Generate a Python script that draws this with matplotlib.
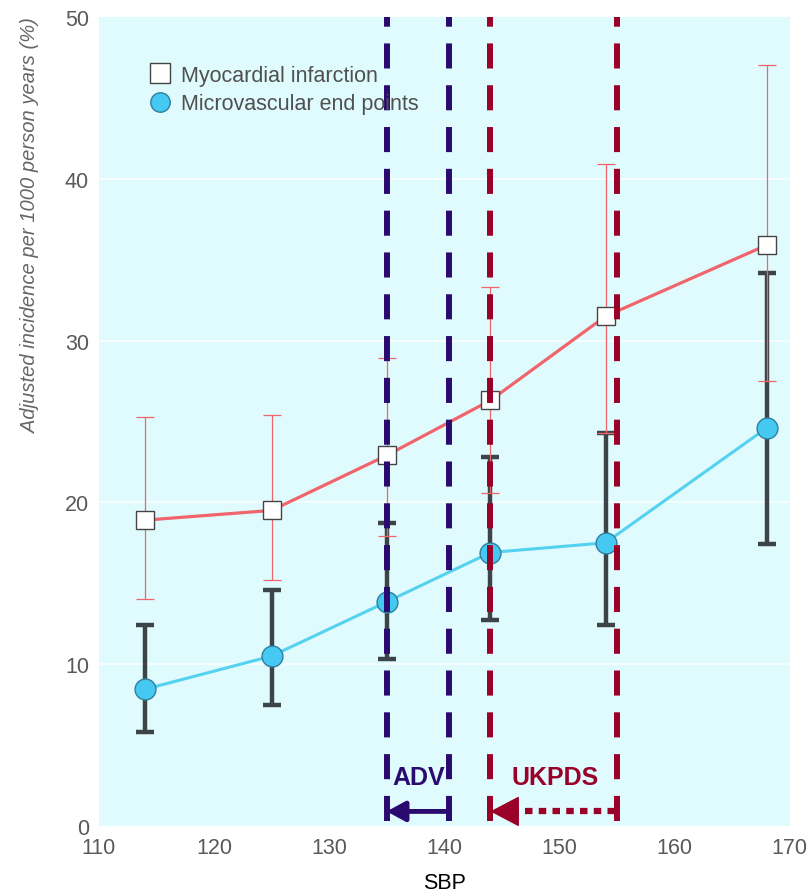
import numpy as np
import matplotlib.pyplot as plt

# data
sbp = [114, 125, 135, 144, 154, 168]
mi = [18.9, 19.5, 22.9, 26.3, 31.5, 35.9]
mi_lo = [14.0, 15.2, 17.9, 20.6, 24.3, 27.5]
mi_hi = [25.3, 25.4, 28.9, 33.3, 40.9, 47.0]
micro = [8.45, 10.5, 13.85, 16.9, 17.5, 24.6]
micro_lo = [5.8, 7.5, 10.3, 12.7, 12.4, 17.4]
micro_hi = [12.4, 14.6, 18.7, 22.8, 24.3, 34.2]

adv_range = [135, 140.4]
ukpds_range = [144, 155]
arrow_y = 0.9

bg = '#e0fbfd'
adv_col = '#2b0a6f'
uk_col = '#9b0029'
mi_col = '#f0646c'
micro_col = '#55d2f0'
bar_col = '#3c4448'

plt.rcParams['font.family'] = ['Liberation Sans', 'DejaVu Sans']

fig = plt.figure(figsize=(8.1, 8.95), dpi=100)
ax = fig.add_axes([0.122, 0.076, 0.853, 0.904])
ax.set_facecolor(bg)
for s in ax.spines.values():
    s.set_visible(False)

ax.set_xlim(110, 170)
ax.set_ylim(0, 50)
ax.set_xticks(np.arange(110, 171, 10))
ax.set_yticks(np.arange(0, 51, 10))
ax.tick_params(length=0, labelsize=15.5, labelcolor='#5a5a5a')
ax.tick_params(axis='y', pad=7)
ax.tick_params(axis='x', pad=8)
for y in [10, 20, 30, 40]:
    ax.axhline(y, color='white', lw=1.5, alpha=0.7, zorder=0.5)

# error bars
m = np.array(micro)
ax.errorbar(sbp, micro, yerr=[m - np.array(micro_lo), np.array(micro_hi) - m],
            fmt='none', ecolor=bar_col, elinewidth=3.2, capsize=6.5, capthick=3.2, zorder=2)
mm = np.array(mi)
ax.errorbar(sbp, mi, yerr=[mm - np.array(mi_lo), np.array(mi_hi) - mm],
            fmt='none', ecolor=mi_col, elinewidth=0.9, capsize=6.5, capthick=0.9, zorder=2.5)

ax.plot(sbp, mi, color=mi_col, lw=2.3, marker='s', ms=13, mfc='white', mec='#444444',
        mew=1, zorder=3, label='Myocardial infarction')
ax.plot(sbp, micro, color=micro_col, lw=2.2, marker='o', ms=15, mfc='#45c8f2', mec='#2f7f9c',
        mew=1, zorder=3, label='Microvascular end points')

# trial ranges
for x in adv_range:
    ax.plot([x, x], [0.3, 50], color=adv_col, lw=4.3, ls=(0, (4.2, 2.8)), zorder=5)
for x in ukpds_range:
    ax.plot([x, x], [0.3, 50], color=uk_col, lw=4.3, ls=(0, (4.2, 2.8)), zorder=5)

ax.annotate('', xy=(adv_range[0], arrow_y), xytext=(adv_range[1], arrow_y),
            arrowprops=dict(arrowstyle='-|>,head_length=0.55,head_width=0.3', color=adv_col,
                            lw=3.5, shrinkA=0, shrinkB=0, mutation_scale=20), zorder=6)
ax.plot([ukpds_range[1] - 0.2, ukpds_range[0] + 2.2], [arrow_y, arrow_y], color=uk_col, lw=4.5,
        ls=(0, (1.2, 1.0)), dash_capstyle='butt', zorder=6)
ax.annotate('', xy=(ukpds_range[0], arrow_y), xytext=(ukpds_range[0] + 2.3, arrow_y),
            arrowprops=dict(arrowstyle='-|>,head_length=0.95,head_width=0.5', color=uk_col,
                            lw=1, shrinkA=0, shrinkB=0, mutation_scale=20), zorder=6)

ax.text(np.mean(adv_range) + 0.1, 3.0, 'ADV', color=adv_col, fontsize=18, fontweight='bold',
        ha='center', va='center', zorder=6)
ax.text(np.mean(ukpds_range) + 0.1, 3.0, 'UKPDS', color=uk_col, fontsize=18, fontweight='bold',
        ha='center', va='center', zorder=6)

ax.set_ylabel('Adjusted incidence per 1000 person years (%)', fontsize=14.5, style='italic',
              color='#666666', labelpad=18, loc='top')
ax.set_xlabel('SBP', fontsize=15.5, color='black', labelpad=10)

leg = ax.legend(loc='upper left', bbox_to_anchor=(0.06, 0.965), frameon=False, fontsize=15.5,
                handlelength=0, handletextpad=1.0, labelspacing=0.35, labelcolor='#505050')
for h in leg.legend_handles:
    h.set_markersize(14)

fig.savefig('out.png', dpi=100)
